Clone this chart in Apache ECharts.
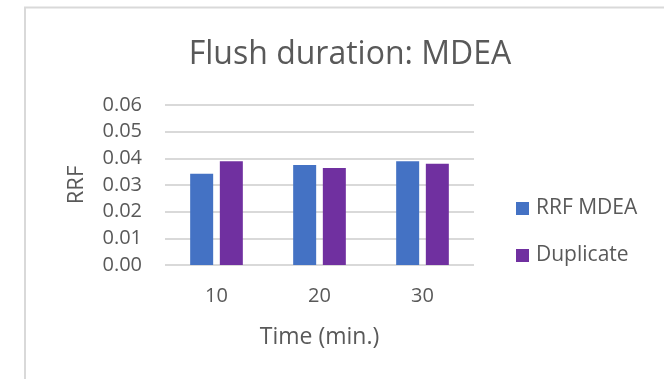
<!DOCTYPE html>
<html>
<head>
<meta charset="utf-8">
<script src="https://cdn.jsdelivr.net/npm/echarts@6/dist/echarts.min.js"></script>
<style>
  html, body { margin: 0; padding: 0; background: #ffffff; }
  #chart { width: 664px; height: 379px; }
</style>
</head>
<body>
<div id="chart"></div>
<script>
// Flush duration comparison for MDEA: RRF vs. duplicate run
const categories = ['10', '20', '30'];
const rrfMdea = [0.0342, 0.0375, 0.0389];
const duplicate = [0.0389, 0.0364, 0.0380];
const yTicks = { min: 0, max: 0.06, interval: 0.01 };

const textColor = '#595959';
const fontFamily = '"Open Sans", "Noto Sans", sans-serif';

const chart = echarts.init(document.getElementById('chart'), null, { renderer: 'canvas' });

chart.setOption({
  backgroundColor: '#ffffff',
  animation: false,
  graphic: [{
    type: 'rect',
    shape: { x: 25, y: 7.5, width: 720, height: 420 },
    style: { fill: 'none', stroke: '#d9d9d9', lineWidth: 2 },
    silent: true
  }],
  title: {
    text: 'Flush duration: MDEA',
    left: 345,
    top: 34,
    textAlign: 'center',
    textStyle: { color: textColor, fontFamily, fontSize: 32, fontWeight: 'normal', lineHeight: 32 }
  },
  legend: {
    orient: 'vertical',
    left: 516,
    top: 198,
    padding: 0,
    itemWidth: 13,
    itemHeight: 13,
    itemGap: 26,
    icon: 'rect',
    textStyle: { color: textColor, fontFamily, fontSize: 21, lineHeight: 20, padding: [0, 0, 0, 2] },
    data: ['RRF MDEA', 'Duplicate']
  },
  grid: { left: 165, right: 190, top: 105, bottom: 114, containLabel: false },
  xAxis: {
    type: 'category',
    data: categories,
    name: 'Time (min.)',
    nameLocation: 'middle',
    nameGap: 60,
    nameTextStyle: { color: textColor, fontFamily, fontSize: 23, lineHeight: 24 },
    axisLine: { show: false },
    axisTick: { show: false },
    axisLabel: { color: textColor, fontFamily, fontSize: 20, lineHeight: 20, margin: 21 }
  },
  yAxis: {
    type: 'value',
    min: yTicks.min,
    max: yTicks.max,
    interval: yTicks.interval,
    name: 'RRF',
    nameLocation: 'middle',
    nameGap: 76,
    nameTextStyle: { color: textColor, fontFamily, fontSize: 22, lineHeight: 24 },
    axisLine: { show: false },
    axisTick: { show: false },
    axisLabel: {
      color: textColor, fontFamily, fontSize: 20, margin: 23,
      formatter: v => v.toFixed(2)
    },
    splitLine: { lineStyle: { color: '#d9d9d9', width: 2 } }
  },
  series: [
    {
      name: 'RRF MDEA',
      type: 'bar',
      data: rrfMdea,
      barWidth: 23,
      barGap: '29%',
      itemStyle: { color: '#4472C4' }
    },
    {
      name: 'Duplicate',
      type: 'bar',
      data: duplicate,
      barWidth: 23,
      barGap: '29%',
      itemStyle: { color: '#7030A0' }
    }
  ]
});
</script>
</body>
</html>
